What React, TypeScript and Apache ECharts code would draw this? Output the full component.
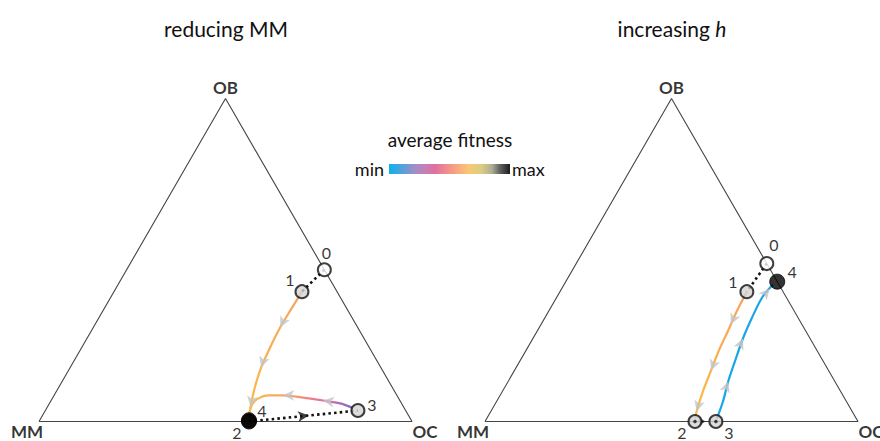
import { useEffect, useRef } from 'react';
import * as echarts from 'echarts';

const H = Math.sqrt(3) / 2;
const FONT = 'Lato, "Noto Sans", sans-serif';

// ---- Texts ----
const cornerLabels = ['MM', 'OC', 'OB'];
const cornerOB = [0, 0, 1];
const cornerOC = [0, 1, 0];
const titleLeft = 'reducing MM';
const titleRight = 'increasing {i|h}';
const legendTitle = 'average fitness';
const legendMin = 'min';
const legendMax = 'max';

// ---- Strategy points (fractions of OB and OC; MM is the remainder) ----
const pointLabels = ['0', '1', '2', '3', '4'];
const reducePointOB = [0.470, 0.402, 0.000, 0.034, 0.004];
const reducePointOC = [0.530, 0.504, 0.563, 0.838, 0.561];
const increasePointOB = [0.489, 0.402, 0.000, 0.000, 0.433];
const increasePointOC = [0.511, 0.501, 0.563, 0.619, 0.567];

// ---- Trajectories ----
// reducing MM: 1 -> 2
const reduceDescentOB = [0.402, 0.347, 0.291, 0.229, 0.167, 0.105, 0.053, 0.012];
const reduceDescentOC = [0.504, 0.502, 0.501, 0.505, 0.512, 0.526, 0.542, 0.557];
// reducing MM: 3 -> 4
const reduceReturnOB = [0.043, 0.056, 0.065, 0.074, 0.081, 0.081, 0.071, 0.053, 0.025];
const reduceReturnOC = [0.818, 0.779, 0.729, 0.671, 0.614, 0.574, 0.552, 0.545, 0.551];
// increasing h: 1 -> 2
const increaseDescentOB = [0.402, 0.344, 0.282, 0.220, 0.158, 0.096, 0.046, 0.009];
const increaseDescentOC = [0.501, 0.504, 0.511, 0.517, 0.527, 0.537, 0.548, 0.558];
// increasing h: 3 -> 4
const increaseRiseOB = [0.009, 0.062, 0.124, 0.186, 0.257, 0.322, 0.384, 0.424];
const increaseRiseOC = [0.617, 0.607, 0.590, 0.577, 0.563, 0.555, 0.551, 0.560];

// ---- Styles ----
const reducePointKinds = ['open', 'gray', 'black', 'gray', 'black'];
const increasePointKinds = ['open', 'gray', 'dot', 'dot', 'black'];
const reduceLabelOffsets = [[2, -17], [-12, -12], [-12, 11], [14, -6], [13, -10]];
const increaseLabelOffsets = [[7, -19], [-14, -10], [-13, 11], [13, 11], [15, -10]];
const cornerLabelOffsets = [[-12, 10], [13, 10], [0, -11]];

function toXY(ob: number, oc: number): [number, number] {
  return [oc + ob / 2, ob * H];
}
function pathOf(obs: number[], ocs: number[]) {
  return obs.map((ob, i) => toXY(ob, ocs[i]));
}
function arrowItems(pts: [number, number][], fracs: number[]) {
  return fracs.map((f) => {
    const i0 = Math.min(Math.floor(f), pts.length - 2);
    const i1 = i0 + 1;
    const t = f - i0;
    const a = pts[i0];
    const b = pts[i1];
    const x = a[0] + (b[0] - a[0]) * t;
    const y = a[1] + (b[1] - a[1]) * t;
    const ang = (Math.atan2(b[1] - a[1], b[0] - a[0]) * 180) / Math.PI;
    return { value: [x, y], symbolRotate: ang - 90 };
  });
}

const orangeGrad = () =>
  new echarts.graphic.LinearGradient(0, 0, 0, 1, [
    { offset: 0, color: '#f6a25f' },
    { offset: 1, color: '#fbbd47' },
  ]);
const returnGrad = () =>
  new echarts.graphic.LinearGradient(0, 0, 1, 0, [
    { offset: 0, color: '#f9bb4c' },
    { offset: 0.3, color: '#f7a863' },
    { offset: 0.5, color: '#f4917a' },
    { offset: 0.7, color: '#e86d97' },
    { offset: 0.86, color: '#b66bb2' },
    { offset: 1, color: '#7671cc' },
  ]);

function kindStyle(kind: string) {
  if (kind === 'open') return { size: 13, color: '#ffffff', border: '#111', bw: 2 };
  if (kind === 'black') return { size: 15, color: '#000000', border: '#000', bw: 1 };
  return { size: 13, color: '#d3d3d3', border: '#111', bw: 2 };
}

function buildPanel(
  gi: number,
  ptOB: number[],
  ptOC: number[],
  kinds: string[],
  offsets: number[][],
  curves: { pts: [number, number][]; color: any; arrows: number[] }[],
  dottedPairs: number[][],
  blackArrow: { from: number; to: number; frac: number; size: number[] },
) {
  const ax = { xAxisIndex: gi, yAxisIndex: gi };
  const pts = ptOB.map((ob, i) => toXY(ob, ptOC[i]));
  const corners = cornerOB.map((ob, i) => toXY(ob, cornerOC[i]));
  const series: any[] = [];
  series.push({
    type: 'line', ...ax, silent: true, symbol: 'none', clip: false,
    data: [corners[0], corners[1], corners[2], corners[0]],
    lineStyle: { color: '#444', width: 1.1 },
    z: 1,
  });
  curves.forEach((c) => {
    series.push({
      type: 'line', ...ax, silent: true, symbol: 'none', clip: false, smooth: 0.3,
      data: c.pts,
      lineStyle: { color: c.color, width: 2.2 },
      z: 2,
    });
    series.push({
      type: 'scatter', ...ax, silent: true, clip: false,
      symbol: 'arrow', symbolSize: [8, 11],
      itemStyle: { color: '#c4c4c4' },
      data: arrowItems(c.pts, c.arrows),
      z: 3,
    });
  });
  dottedPairs.forEach(([a, b]) => {
    series.push({
      type: 'line', ...ax, silent: true, symbol: 'none', clip: false,
      data: [pts[a], pts[b]],
      lineStyle: { color: '#111', width: 2.6, type: [2.5, 3.2], cap: 'butt' },
      z: 2,
    });
  });
  series.push({
    type: 'scatter', ...ax, silent: true, clip: false,
    symbol: 'arrow', symbolSize: blackArrow.size,
    itemStyle: { color: '#111' },
    data: arrowItems([pts[blackArrow.from], pts[blackArrow.to]], [blackArrow.frac]),
    z: 4,
  });
  series.push({
    type: 'scatter', ...ax, silent: true, clip: false,
    data: pts.map((p, i) => {
      const s = kindStyle(kinds[i]);
      return {
        value: p,
        symbol: 'circle',
        symbolSize: s.size,
        itemStyle: { color: s.color, borderColor: s.border, borderWidth: s.bw },
        label: {
          show: true, formatter: pointLabels[i], position: 'inside',
          offset: offsets[i], color: '#000', fontSize: 16, fontFamily: FONT,
        },
      };
    }),
    z: 5,
  });
  const dots = pts.filter((_, i) => kinds[i] === 'dot');
  if (dots.length) {
    series.push({
      type: 'scatter', ...ax, silent: true, clip: false,
      symbol: 'circle', symbolSize: 3.5, itemStyle: { color: '#111' },
      data: dots, z: 6,
    });
  }
  series.push({
    type: 'scatter', ...ax, silent: true, clip: false,
    symbolSize: 1, itemStyle: { color: 'transparent' },
    data: corners.map((p, i) => ({
      value: p,
      label: {
        show: true, formatter: cornerLabels[i], position: 'inside',
        offset: cornerLabelOffsets[i], color: '#000', fontSize: 17,
        fontWeight: 'bold', fontFamily: FONT,
      },
    })),
    z: 6,
  });
  return series;
}

export default function App() {
  const ref = useRef<HTMLDivElement>(null);
  useEffect(() => {
    if (!ref.current) return;
    const chart = echarts.init(ref.current, undefined, { renderer: 'svg' });
    const side = 373;
    const grids = [
      { left: 39, top: 98.5, width: side, height: side * H },
      { left: 485, top: 98.5, width: side, height: side * H },
    ];
    const series = [
      ...buildPanel(
        0, reducePointOB, reducePointOC, reducePointKinds, reduceLabelOffsets,
        [
          { pts: pathOf(reduceDescentOB, reduceDescentOC), color: orangeGrad(), arrows: [2, 4, 6.2] },
          { pts: pathOf(reduceReturnOB, reduceReturnOC), color: returnGrad(), arrows: [2, 4] },
        ],
        [[0, 1], [2, 3]],
        { from: 2, to: 3, frac: 0.55, size: [8, 11] },
      ),
      ...buildPanel(
        1, increasePointOB, increasePointOC, increasePointKinds, increaseLabelOffsets,
        [
          { pts: pathOf(increaseDescentOB, increaseDescentOC), color: orangeGrad(), arrows: [1.7, 4, 6.4] },
          { pts: pathOf(increaseRiseOB, increaseRiseOC), color: '#19a6e6', arrows: [2, 4, 6.7] },
        ],
        [[0, 1]],
        { from: 2, to: 3, frac: 0.5, size: [6, 7] },
      ),
    ];
    chart.setOption({
      animation: false,
      grid: grids,
      xAxis: [0, 1].map((i) => ({ gridIndex: i, type: 'value', min: 0, max: 1, show: false })),
      yAxis: [0, 1].map((i) => ({ gridIndex: i, type: 'value', min: 0, max: H, show: false })),
      series,
      graphic: [
        {
          type: 'text', x: 226, y: 28,
          style: { text: titleLeft, align: 'center', verticalAlign: 'middle', fontSize: 21, fontFamily: FONT, fill: '#111' },
        },
        {
          type: 'text', x: 672, y: 28,
          style: {
            text: titleRight, align: 'center', verticalAlign: 'middle', fontSize: 21, fontFamily: FONT, fill: '#111',
            rich: { i: { fontStyle: 'italic', fontSize: 21, fontFamily: FONT, fill: '#111' } },
          },
        },
        {
          type: 'text', x: 450, y: 139,
          style: { text: legendTitle, align: 'center', verticalAlign: 'middle', fontSize: 19, fontFamily: FONT, fill: '#111' },
        },
        {
          type: 'text', x: 384, y: 169,
          style: { text: legendMin, align: 'right', verticalAlign: 'middle', fontSize: 18, fontFamily: FONT, fill: '#111' },
        },
        {
          type: 'text', x: 512, y: 169,
          style: { text: legendMax, align: 'left', verticalAlign: 'middle', fontSize: 18, fontFamily: FONT, fill: '#111' },
        },
        {
          type: 'rect',
          shape: { x: 389, y: 164, width: 121, height: 10 },
          style: {
            fill: new echarts.graphic.LinearGradient(0, 0, 1, 0, [
              { offset: 0, color: '#10b0e8' },
              { offset: 0.1, color: '#4aa4de' },
              { offset: 0.2, color: '#9a90c8' },
              { offset: 0.3, color: '#c680b6' },
              { offset: 0.38, color: '#e0709e' },
              { offset: 0.5, color: '#f3938a' },
              { offset: 0.6, color: '#f8b47c' },
              { offset: 0.66, color: '#f8c874' },
              { offset: 0.76, color: '#ddcd82' },
              { offset: 0.85, color: '#aeae94' },
              { offset: 0.92, color: '#5e5e5e' },
              { offset: 1, color: '#1c1c1c' },
            ]),
          },
        },
      ],
    });
    return () => chart.dispose();
  }, []);
  return (
    <div
      ref={ref}
      style={{ position: 'fixed', left: 0, top: 0, width: 880, height: 441, background: '#fff' }}
    />
  );
}
